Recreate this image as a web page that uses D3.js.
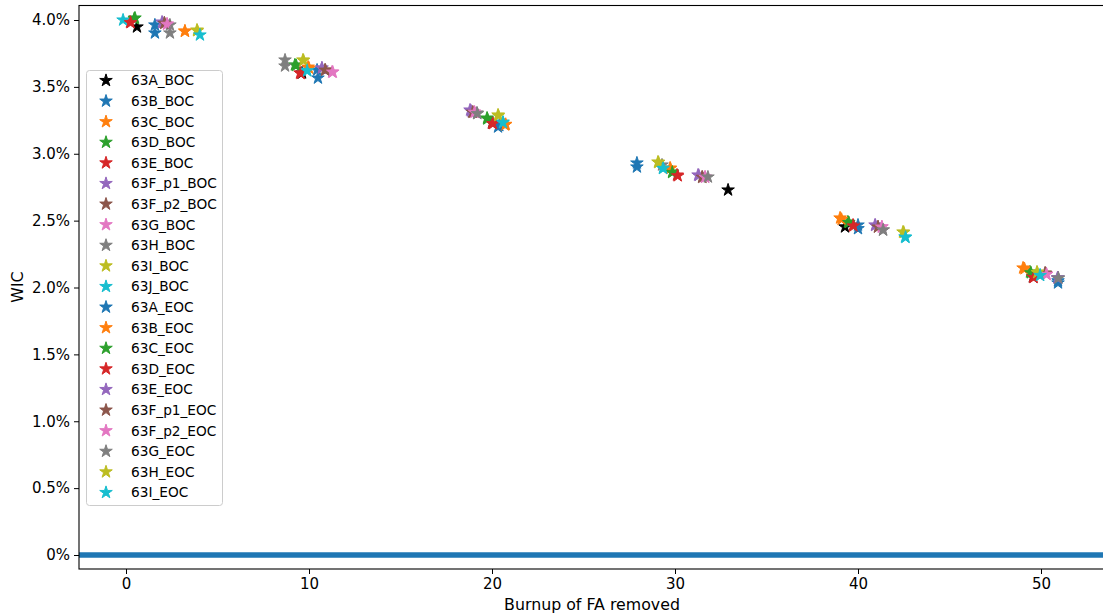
<!DOCTYPE html>
<html>
<head>
<meta charset="utf-8">
<script src="https://cdn.jsdelivr.net/npm/d3@7"></script>
<style>
  html, body { margin: 0; padding: 0; background: #fff; }
  svg { display: block; font-family: "DejaVu Sans", sans-serif; }
</style>
</head>
<body>
<svg id="chart" width="1103" height="614"></svg>
<script>
// ---------- data ----------
const seriesNames = ["63A_BOC","63B_BOC","63C_BOC","63D_BOC","63E_BOC","63F_p1_BOC","63F_p2_BOC","63G_BOC","63H_BOC","63I_BOC","63J_BOC",
                     "63A_EOC","63B_EOC","63C_EOC","63D_EOC","63E_EOC","63F_p1_EOC","63F_p2_EOC","63G_EOC","63H_EOC","63I_EOC"];
const seriesColors = ["#000000","#1f77b4","#ff7f0e","#2ca02c","#d62728","#9467bd","#8c564b","#e377c2","#7f7f7f","#bcbd22","#17becf",
                      "#1f77b4","#ff7f0e","#2ca02c","#d62728","#9467bd","#8c564b","#e377c2","#7f7f7f","#bcbd22","#17becf"];
// burnup of FA removed
const burnup = [
  [0.60, 9.62, 20.00, 32.90, 39.29, 49.56],   // 63A_BOC
  [1.58, 10.44, 20.33, 27.92, 40.00, 50.93],  // 63B_BOC
  [3.22, 9.95, 20.71, 29.73, 39.02, 49.02],   // 63C_BOC
  [0.49, 9.23, 19.73, 29.84, 39.45, 49.40],   // 63D_BOC
  [0.22, 9.51, 20.00, 30.11, 39.73, 49.56],   // 63E_BOC
  [1.97, 10.71, 18.80, 31.26, 40.93, 50.93],  // 63F_p1_BOC
  [2.10, 10.87, 18.91, 31.48, 41.09, 50.22],  // 63F_p2_BOC
  [2.24, 11.26, 19.02, 31.64, 41.31, 50.30],  // 63G_BOC
  [2.40, 8.69, 19.18, 29.29, 41.37, 50.93],   // 63H_BOC
  [3.88, 9.67, 20.33, 29.07, 42.46, 49.78],   // 63I_BOC
  [-0.16, 9.89, 20.60, 29.34, 42.57, 49.95],  // 63J_BOC
  [1.58, 10.49, 20.40, 27.92, 40.00, 50.93],  // 63A_EOC
  [3.22, 10.00, 20.75, 29.75, 39.10, 49.10],  // 63B_EOC
  [0.45, 9.30, 19.75, 29.85, 39.50, 49.45],   // 63C_EOC
  [0.25, 9.55, 20.05, 30.15, 39.75, 49.60],   // 63D_EOC
  [2.00, 10.70, 18.85, 31.30, 40.95, 50.90],  // 63E_EOC
  [2.10, 10.90, 18.95, 31.50, 41.10, 50.25],  // 63F_p1_EOC
  [2.25, 11.30, 19.05, 31.65, 41.30, 50.30],  // 63F_p2_EOC
  [2.40, 8.69, 19.20, 31.80, 41.37, 50.95],   // 63G_EOC
  [3.90, 9.70, 20.35, 29.10, 42.50, 49.80],   // 63H_EOC
  [4.04, 9.90, 20.60, 29.35, 42.60, 49.95]    // 63I_EOC
];
// WIC (fraction)
const wic = [
  [0.03948, 0.03604, 0.03230, 0.02729, 0.02453, 0.02079],
  [0.03963, 0.03626, 0.03200, 0.02931, 0.02467, 0.02034],
  [0.03918, 0.03648, 0.03215, 0.02893, 0.02520, 0.02146],
  [0.04015, 0.03664, 0.03267, 0.02864, 0.02490, 0.02116],
  [0.03985, 0.03604, 0.03230, 0.02841, 0.02467, 0.02079],
  [0.03985, 0.03641, 0.03327, 0.02841, 0.02467, 0.02071],
  [0.03978, 0.03626, 0.03312, 0.02826, 0.02453, 0.02108],
  [0.03970, 0.03611, 0.03312, 0.02826, 0.02453, 0.02100],
  [0.03963, 0.03701, 0.03305, 0.02916, 0.02430, 0.02071],
  [0.03925, 0.03701, 0.03290, 0.02938, 0.02415, 0.02116],
  [0.04000, 0.03626, 0.03237, 0.02893, 0.02378, 0.02093],
  [0.03903, 0.03566, 0.03210, 0.02901, 0.02440, 0.02050],
  [0.03915, 0.03640, 0.03220, 0.02890, 0.02510, 0.02140],
  [0.04010, 0.03660, 0.03260, 0.02860, 0.02485, 0.02110],
  [0.03980, 0.03600, 0.03225, 0.02835, 0.02460, 0.02075],
  [0.03980, 0.03640, 0.03320, 0.02838, 0.02465, 0.02072],
  [0.03975, 0.03625, 0.03310, 0.02824, 0.02452, 0.02106],
  [0.03968, 0.03610, 0.03310, 0.02824, 0.02452, 0.02098],
  [0.03903, 0.03656, 0.03300, 0.02826, 0.02430, 0.02070],
  [0.03920, 0.03698, 0.03285, 0.02935, 0.02412, 0.02112],
  [0.03888, 0.03620, 0.03232, 0.02890, 0.02375, 0.02090]
];
const xTicks = [0, 10, 20, 30, 40, 50];
const yTicks = [0, 0.005, 0.010, 0.015, 0.020, 0.025, 0.030, 0.035, 0.040];
const yTickLabels = ["0%","0.5%","1.0%","1.5%","2.0%","2.5%","3.0%","3.5%","4.0%"];
const hLineValue = 0;

// ---------- layout ----------
const svg = d3.select("#chart");
const plot = { left: 79, right: 1105, top: 5.5, bottom: 569 };
const x = d3.scaleLinear().domain([0, 50]).range([126, 1041]);
const y = d3.scaleLinear().domain([0, 0.04]).range([555, 20]);

// horizontal line at 0
svg.append("line")
  .attr("x1", plot.left).attr("x2", plot.right)
  .attr("y1", y(hLineValue)).attr("y2", y(hLineValue))
  .attr("stroke", "#1f77b4").attr("stroke-width", 5.5);

// star path (matplotlib-like)
function starPath(R) {
  const r = R * 0.381966;
  const pts = [];
  for (let i = 0; i < 10; i++) {
    const a = -Math.PI / 2 + i * Math.PI / 5;
    const rr = i % 2 === 0 ? R : r;
    pts.push([rr * Math.cos(a), rr * Math.sin(a)]);
  }
  return "M" + pts.map(p => p[0].toFixed(2) + "," + p[1].toFixed(2)).join("L") + "Z";
}
const star = starPath(6.6);

// points
const clip = svg.append("clipPath").attr("id", "clip").append("rect")
  .attr("x", plot.left).attr("y", plot.top)
  .attr("width", plot.right - plot.left).attr("height", plot.bottom - plot.top);
const gPts = svg.append("g").attr("clip-path", "url(#clip)");
seriesNames.forEach((name, i) => {
  const pts = burnup[i].map((b, j) => [b, wic[i][j]]);
  gPts.append("g").selectAll("path").data(pts).join("path")
    .attr("d", star)
    .attr("transform", d => `translate(${x(d[0])},${y(d[1])})`)
    .attr("fill", seriesColors[i])
    .attr("stroke", seriesColors[i])
    .attr("stroke-width", 1)
    .attr("stroke-linejoin", "round");
});

// axes frame
svg.append("rect")
  .attr("x", plot.left).attr("y", plot.top)
  .attr("width", plot.right - plot.left).attr("height", plot.bottom - plot.top)
  .attr("fill", "none").attr("stroke", "#000").attr("stroke-width", 1.1);

// x axis
const xAxis = d3.axisBottom(x).tickValues(xTicks).tickSize(5).tickPadding(4).tickFormat(d3.format("d"));
const gx = svg.append("g").attr("transform", `translate(0,${plot.bottom})`).call(xAxis);
gx.select(".domain").remove();
gx.selectAll("text").attr("font-size", 15).attr("font-family", "DejaVu Sans").attr("fill", "#000");
gx.selectAll("line").attr("stroke", "#000");

// y axis
const yAxis = d3.axisLeft(y).tickValues(yTicks).tickSize(5).tickPadding(4).tickFormat((d, i) => yTickLabels[i]);
const gy = svg.append("g").attr("transform", `translate(${plot.left},0)`).call(yAxis);
gy.select(".domain").remove();
gy.selectAll("text").attr("font-size", 15).attr("font-family", "DejaVu Sans").attr("fill", "#000");
gy.selectAll("line").attr("stroke", "#000");

// axis labels
svg.append("text").attr("x", 592).attr("y", 610).attr("text-anchor", "middle")
  .attr("font-size", 15.8).text("Burnup of FA removed");
svg.append("text").attr("transform", "translate(23,287) rotate(-90)").attr("text-anchor", "middle")
  .attr("font-size", 15.8).text("WIC");

// legend
const leg = svg.append("g");
leg.append("rect").attr("x", 86.5).attr("y", 70.5).attr("width", 136).attr("height", 435)
  .attr("fill", "#fff").attr("fill-opacity", 0.8).attr("stroke", "#ccc").attr("rx", 3);
const ly = d3.scaleLinear().domain([0, 20]).range([80.5, 492.5]);
seriesNames.forEach((name, i) => {
  leg.append("path").attr("d", star)
    .attr("transform", `translate(106,${ly(i)})`)
    .attr("fill", seriesColors[i]).attr("stroke", seriesColors[i]).attr("stroke-width", 1)
    .attr("stroke-linejoin", "round");
  leg.append("text").attr("x", 131).attr("y", ly(i)).attr("dy", "0.36em")
    .attr("font-size", 13.7).text(name);
});
</script>
</body>
</html>
